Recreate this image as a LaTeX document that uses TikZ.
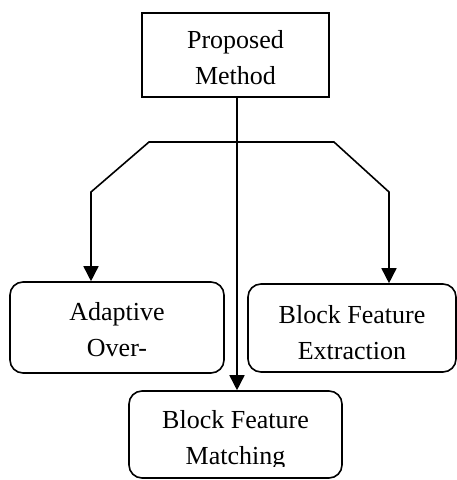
\documentclass[tikz,border=0pt]{standalone}
\usepackage{fontspec}
\setmainfont{Liberation Serif}
\usetikzlibrary{arrows.meta,calc}
\begin{document}
\begin{tikzpicture}[x=1pt,y=-1pt,
  line width=1.6pt,
  lbl/.style={font=\fontsize{26}{36}\selectfont, align=center, inner sep=0pt},
  sqbox/.style={draw, line width=1.6pt, inner sep=0pt},
  rbox/.style={draw, line width=1.6pt, rounded corners=13pt, inner sep=0pt},
  arr/.style={-{Triangle[width=15pt,length=15pt]}}]
\useasboundingbox (0,0) rectangle (457,480);
% boxes
\node[sqbox, minimum width=187pt, minimum height=84pt] (top) at (235.5,55) {};
\node[lbl] (toptxt) at (235.5,58) {Proposed\\Method};
\node[rbox, minimum width=214pt, minimum height=91pt] (left) at (117,327.5) {};
\node[lbl] (lefttxt) at (117,330) {Adaptive\\Over-};
\node[rbox, minimum width=208pt, minimum height=88pt] (right) at (352,328) {};
\node[lbl] (righttxt) at (352,332.5) {Block Feature\\Extraction};
\node[rbox, minimum width=213pt, minimum height=87pt] (bottom) at (235.5,434.5) {};
\begin{scope}
  \clip (129,392) rectangle (342,466.5);
  \node[lbl] (bottomtxt) at (235.5,440) {Block Feature\\Matching};
\end{scope}
% connector coordinates
\coordinate (s) at (237,97);
\coordinate (j) at (237,142);
\coordinate (hl) at (149,142);
\coordinate (dl) at (91,192);
\coordinate (hr) at (334,142);
\coordinate (dr) at (389,192);
% connectors
\draw[arr] (s) -- (s |- bottom.north);
\draw[arr] (j) -- (hl) -- (dl) -- (dl |- left.north);
\draw[arr] (j) -- (hr) -- (dr) -- (dr |- right.north);
\end{tikzpicture}
\end{document}
